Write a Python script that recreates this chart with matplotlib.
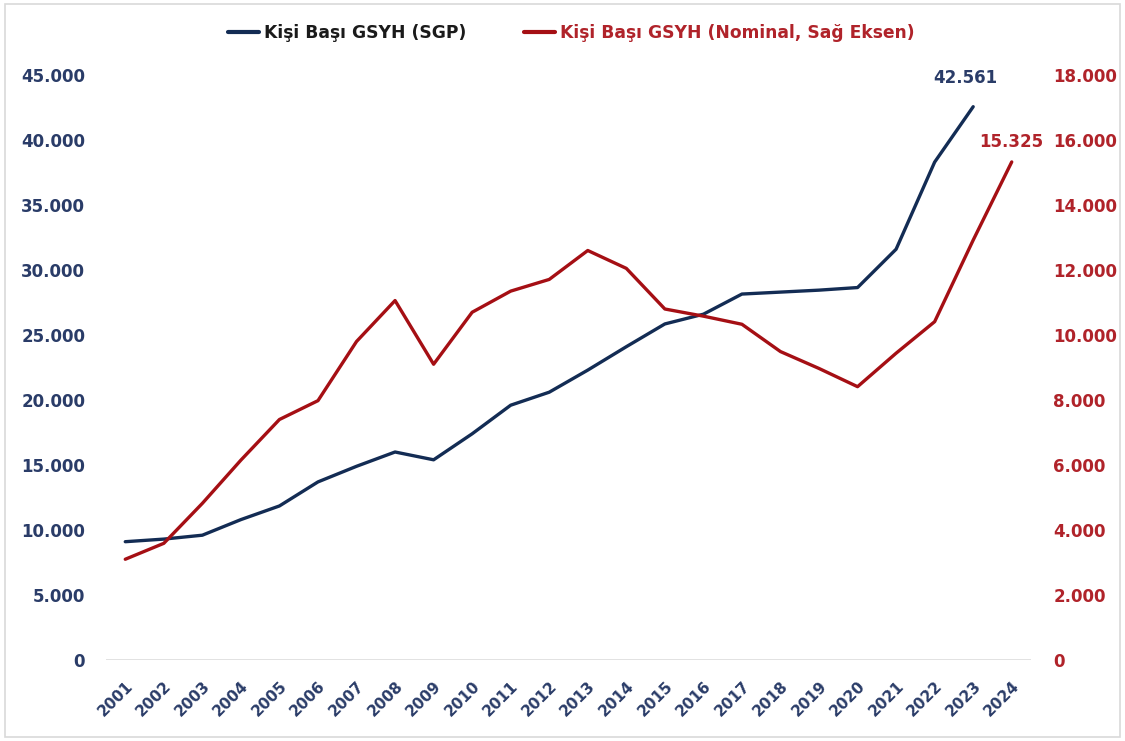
import matplotlib
matplotlib.use("Agg")
import matplotlib.pyplot as plt
from matplotlib.patches import Rectangle
from matplotlib.ticker import FuncFormatter, MultipleLocator

years = [str(y) for y in range(2001, 2025)]
sgp = [9100, 9300, 9600, 10800, 11850, 13700, 14900, 16000, 15400, 17400,
       19600, 20600, 22300, 24100, 25850, 26600, 28150, 28300, 28450, 28650,
       31600, 38300, 42561]
nominal = [3100, 3590, 4820, 6150, 7400, 7980, 9800, 11060, 9100, 10700,
           11350, 11710, 12600, 12050, 10800, 10580, 10330, 9490, 8970, 8410,
           9440, 10410, 12920, 15325]
sgp_label = "Kişi Başı GSYH (SGP)"
nom_label = "Kişi Başı GSYH (Nominal, Sağ Eksen)"

NAVY = "#132C54"
NAVY_TXT = "#2A3C68"
RED = "#A50F14"
RED_TXT = "#B0232A"

plt.rcParams['font.family'] = ['DejaVu Sans']

fig = plt.figure(figsize=(11.25, 7.41), dpi=100)
ax = fig.add_axes([106/1125, 1 - 660/741, (1031 - 106)/1125, (660 - 75)/741])
ax2 = ax.twinx()

x1 = list(range(len(sgp)))
x2 = list(range(len(nominal)))
l1, = ax.plot(x1, sgp, color=NAVY, lw=2.4, solid_capstyle='round', solid_joinstyle='round', zorder=3)
l2, = ax2.plot(x2, nominal, color=RED, lw=2.4, solid_capstyle='round', solid_joinstyle='round', zorder=3)

ax.set_xlim(-0.5, len(years) - 0.5)
ax.set_ylim(0, 45000)
ax2.set_ylim(0, 18000)
ax.yaxis.set_major_locator(MultipleLocator(5000))
ax2.yaxis.set_major_locator(MultipleLocator(2000))

fmt = FuncFormatter(lambda v, p: f"{int(v):,}".replace(",", "."))
ax.yaxis.set_major_formatter(fmt)
ax2.yaxis.set_major_formatter(fmt)

for a in (ax, ax2):
    for s in a.spines.values():
        s.set_visible(False)
    a.tick_params(length=0)
ax.axhline(0, color="#D9D9D9", lw=1.8, zorder=1)

ax.tick_params(axis='y', pad=15, labelsize=12, labelcolor=NAVY_TXT)
ax2.tick_params(axis='y', pad=16, labelsize=12, labelcolor=RED_TXT)
for t in ax.get_yticklabels():
    t.set_fontweight('bold')
for t in ax2.get_yticklabels():
    t.set_fontweight('bold')

ax.set_xticks(range(len(years)))
ax.set_xticklabels(years, rotation=45, ha='right', rotation_mode='anchor',
                   fontsize=11, fontweight='bold', color=NAVY_TXT)
ax.tick_params(axis='x', pad=13)

ax.annotate(f"{sgp[-1]:,}".replace(",", "."), (x1[-1], sgp[-1]), xytext=(-6, 14),
            textcoords='offset points', ha='center', va='bottom',
            fontsize=12, fontweight='bold', color=NAVY_TXT)
ax2.annotate(f"{nominal[-1]:,}".replace(",", "."), (x2[-1], nominal[-1]), xytext=(0, 8),
             textcoords='offset points', ha='center', va='bottom',
             fontsize=12, fontweight='bold', color=RED_TXT)

leg = fig.legend([l1, l2], [sgp_label, nom_label], loc='center',
                 bbox_to_anchor=(0.508, 0.955), ncol=2, frameon=False,
                 prop={'weight': 'bold', 'size': 12.3}, handlelength=1.8,
                 handletextpad=0.3, columnspacing=3.4)
for h in leg.get_lines():
    h.set_linewidth(3.0)
leg.get_texts()[0].set_color("#1A1A1A")
leg.get_texts()[1].set_color(RED_TXT)

fig.patches.append(Rectangle((5/1125, 4/741), 1 - 10/1125, 1 - 8/741,
                             transform=fig.transFigure, fill=False,
                             edgecolor="#D9D9D9", lw=1.2))

fig.savefig("out.png", dpi=100)
